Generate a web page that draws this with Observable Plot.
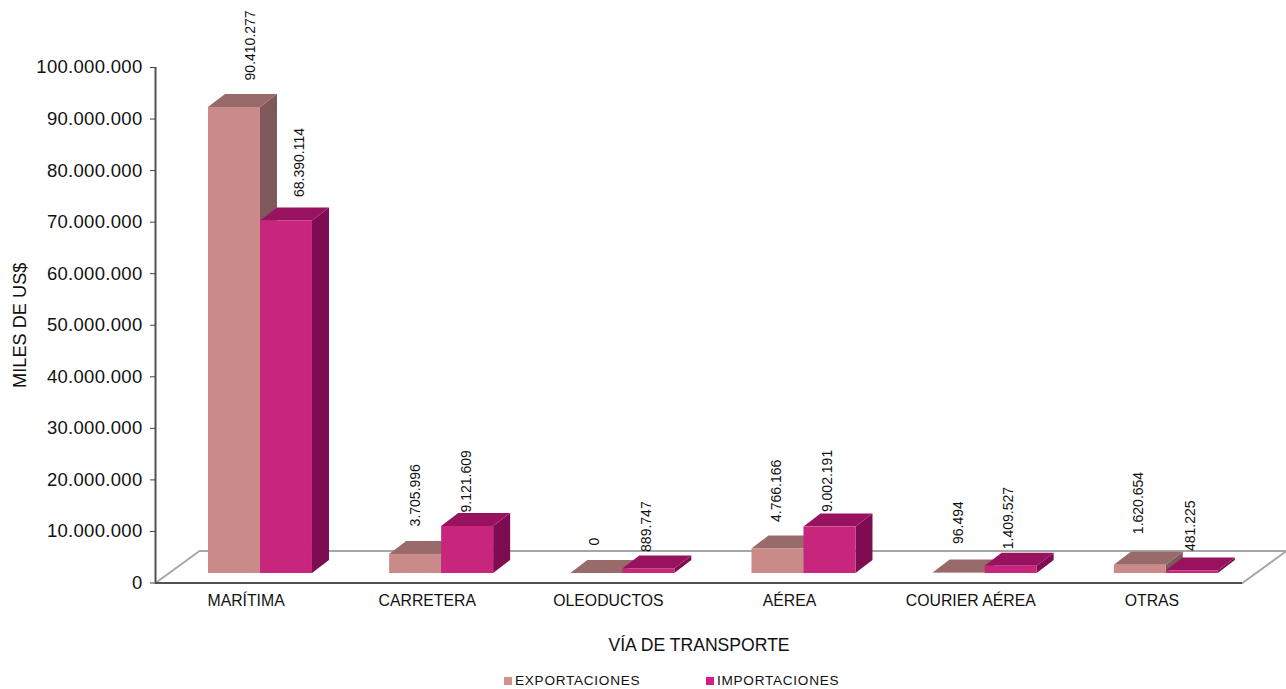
<!DOCTYPE html>
<html lang="es">
<head>
<meta charset="utf-8">
<script src="https://cdn.jsdelivr.net/npm/d3@7"></script>
<script src="https://cdn.jsdelivr.net/npm/@observablehq/plot@0.6"></script>
<style>
  html, body { margin: 0; padding: 0; background: #fff; }
  #legend { position: relative; height: 19px; width: 1286px; font: 13.6px "Liberation Sans", Arial, sans-serif; color: #111; letter-spacing: .73px; }
  #legend span { position: absolute; top: 3px; white-space: nowrap; }
  #legend i { position: absolute; top: 7px; width: 8px; height: 8px; }
  svg text { font-family: "Liberation Sans", Arial, sans-serif; }
  svg g[aria-label="y-axis tick label"] text { letter-spacing: .3px; }
</style>
</head>
<body>
<div id="chart"></div>
<div id="legend">
  <i style="left:504px;background:#D09090"></i><span style="left:515px">EXPORTACIONES</span>
  <i style="left:706px;background:#D81B87"></i><span style="left:717px">IMPORTACIONES</span>
</div>
<script>
const categories = ["MARÍTIMA", "CARRETERA", "OLEODUCTOS", "AÉREA", "COURIER AÉREA", "OTRAS"];
const exportaciones = [90410277, 3705996, 0, 4766166, 96494, 1620654];
const importaciones = [68390114, 9121609, 889747, 9002191, 1409527, 481225];
const yTicks = [0, 10e6, 20e6, 30e6, 40e6, 50e6, 60e6, 70e6, 80e6, 90e6, 100e6];

// hand-placed label nudges of the reference, in pixels [dx, dy]
const exportLabelNudge = [[16, -14], [0, -15], [-2, -15], [-1, -14], [-1, -16], [-2, -18]];
const importLabelNudge = [[13, -11], [-1, -1], [-2, -4], [-2, -2], [-3, -4], [-2, -7]];

const W = 1286, H = 670;
const M = {top: 67, right: 44, bottom: 87.5, left: 155};

// 3-D extrusion expressed in scale units
const pxX = 6 / (W - M.left - M.right);
const pxY = 100e6 / (H - M.top - M.bottom);
const barW = 52 * pxX, depthX = 17 * pxX, depthY = 13 * pxY;
const floorX = 44 * pxX, floorY = 32 * pxY;
const shift = {dx: 14.4, dy: -9.5};

const fmt = d3.formatLocale({decimal: ",", thousands: ".", grouping: [3], currency: ["", ""]}).format(",d");

function rows(values, side) {
  return values.map((value, i) => ({
    key: `${side}-${i}`, value,
    x1: i + 0.5 + (side === "exp" ? -barW : 0),
    x2: i + 0.5 + (side === "exp" ? 0 : barW)
  }));
}
const sidePts = rs => rs.flatMap(r => [
  {key: r.key, x: r.x2, y1: 0, y2: r.value},
  {key: r.key, x: r.x2 + depthX, y1: depthY, y2: r.value + depthY}
]);
const topPts = rs => rs.flatMap(r => [
  {key: r.key, y: r.value, x1: r.x1, x2: r.x2},
  {key: r.key, y: r.value + depthY, x1: r.x1 + depthX, x2: r.x2 + depthX}
]);
function box(rs, front, top, side) {
  return [
    Plot.areaY(sidePts(rs), {x: "x", y1: "y1", y2: "y2", z: "key", fill: side, ...shift}),
    Plot.areaX(topPts(rs), {y: "y", x1: "x1", x2: "x2", z: "key", fill: top, ...shift}),
    Plot.rect(rs, {x1: "x1", x2: "x2", y1: 0, y2: "value", fill: front, ...shift})
  ];
}
function labels(rs, nudge) {
  return rs.map((r, i) => Plot.text([r], {
    x: d => (d.x1 + d.x2) / 2, y: d => d.value + depthY, text: d => fmt(d.value),
    rotate: -90, textAnchor: "start", lineAnchor: "middle", fontSize: 14, fill: "#111",
    dx: shift.dx + nudge[i][0], dy: shift.dy + nudge[i][1]
  }));
}

const expRows = rows(exportaciones, "exp");
const impRows = rows(importaciones, "imp");
const floor = [{x: 0, y: 0}, {x: floorX, y: floorY}, {x: 6 + floorX, y: floorY}, {x: 6, y: 0}];

const chart = Plot.plot({
  width: W, height: H,
  marginTop: M.top, marginRight: M.right, marginBottom: M.bottom, marginLeft: M.left,
  style: {background: "#fff", overflow: "visible"},
  x: {type: "linear", domain: [0, 6]},
  y: {type: "linear", domain: [0, 100e6]},
  marks: [
    Plot.line(floor, {x: "x", y: "y", stroke: "#a6a6a6", strokeWidth: 2}),
    ...box(expRows, "#CA8A8A", "#986A6A", "#7F5959"),
    ...box(impRows, "#C8267C", "#98125F", "#7D0D50"),
    Plot.ruleX([0], {stroke: "#505050", strokeWidth: 2}),
    Plot.ruleY([0], {stroke: "#505050", strokeWidth: 2}),
    Plot.axisY({
      ticks: yTicks, tickFormat: fmt, tickSize: 5, tickPadding: 8, fontSize: 18.5, stroke: "#404040",
      label: null, color: "#111"
    }),
    Plot.axisY({
      ticks: [], fontSize: 18.2, color: "#111",
      label: "MILES DE US$", labelAnchor: "center", labelArrow: "none", labelOffset: 142
    }),
    Plot.axisX({
      ticks: categories.map((c, i) => i + 0.5), tickFormat: d => categories[d - 0.5],
      tickSize: 0, tickPadding: 12, fontSize: 15.8, color: "#111", label: null
    }),
    Plot.axisX({
      ticks: [], fontSize: 17.6, color: "#111",
      label: "VÍA DE TRANSPORTE", labelAnchor: "center", labelArrow: "none", labelOffset: 68
    }),
    ...labels(expRows, exportLabelNudge),
    ...labels(impRows, importLabelNudge)
  ]
});
document.getElementById("chart").appendChild(chart);
</script>
</body>
</html>
